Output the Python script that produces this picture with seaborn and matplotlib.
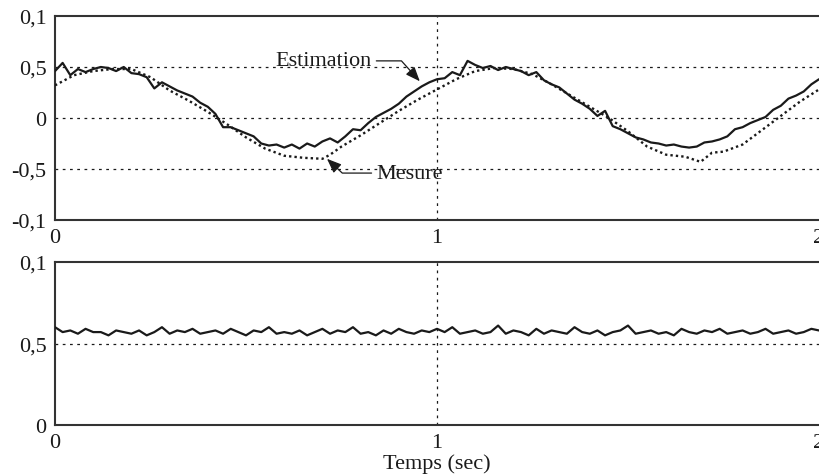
import numpy as np
import pandas as pd
import matplotlib
matplotlib.use("Agg")
import matplotlib.pyplot as plt
import seaborn as sns

# ---------------- data ----------------
# Measured signal (dotted), top panel
mesure_t = [0.00, 0.05, 0.10, 0.15, 0.20, 0.25, 0.30, 0.35, 0.40, 0.45,
            0.50, 0.55, 0.60, 0.65, 0.70, 0.72, 0.75, 0.80, 0.85, 0.90,
            0.95, 1.00, 1.05, 1.10, 1.15, 1.20, 1.25, 1.30, 1.35, 1.40,
            1.45, 1.50, 1.55, 1.60, 1.65, 1.69, 1.70, 1.72, 1.75, 1.80,
            1.85, 1.90, 1.95, 2.00]
mesure_v = [0.32, 0.42, 0.46, 0.48, 0.48, 0.40, 0.27, 0.17, 0.06, -0.06,
            -0.19, -0.30, -0.37, -0.39, -0.40, -0.36, -0.28, -0.17, -0.05, 0.07,
            0.18, 0.28, 0.38, 0.46, 0.49, 0.48, 0.43, 0.33, 0.22, 0.11,
            0.00, -0.13, -0.28, -0.36, -0.38, -0.43, -0.40, -0.34, -0.33, -0.26,
            -0.12, 0.02, 0.16, 0.28]

# Estimated signal (solid), top panel, sampled every 0.02 s
estim_t = [round(0.02 * i, 2) for i in range(101)]
estim_v = [0.46, 0.54, 0.42, 0.48, 0.45, 0.48, 0.50, 0.49, 0.46, 0.50,
           0.44, 0.43, 0.40, 0.29, 0.35, 0.31, 0.27, 0.24, 0.21, 0.15,
           0.11, 0.04, -0.09, -0.09, -0.12, -0.15, -0.18, -0.25, -0.27, -0.26,
           -0.29, -0.26, -0.30, -0.25, -0.28, -0.23, -0.20, -0.24, -0.18, -0.11,
           -0.12, -0.05, 0.01, 0.05, 0.09, 0.14, 0.21, 0.26, 0.31, 0.35,
           0.38, 0.39, 0.45, 0.42, 0.56, 0.52, 0.49, 0.51, 0.47, 0.50,
           0.48, 0.46, 0.42, 0.45, 0.37, 0.33, 0.30, 0.24, 0.18, 0.14,
           0.09, 0.02, 0.07, -0.08, -0.11, -0.15, -0.19, -0.21, -0.24, -0.25,
           -0.27, -0.26, -0.28, -0.29, -0.28, -0.24, -0.23, -0.21, -0.18, -0.11,
           -0.09, -0.05, -0.02, 0.01, 0.08, 0.12, 0.19, 0.22, 0.26, 0.33,
           0.38]

# Bottom panel signal, sampled every 0.02 s
bas_t = [round(0.02 * i, 2) for i in range(101)]
bas_v = [0.60, 0.57, 0.58, 0.56, 0.59, 0.57, 0.57, 0.55, 0.58, 0.57,
         0.56, 0.58, 0.55, 0.57, 0.60, 0.56, 0.58, 0.57, 0.59, 0.56,
         0.57, 0.58, 0.56, 0.59, 0.57, 0.55, 0.58, 0.57, 0.60, 0.56,
         0.57, 0.56, 0.58, 0.55, 0.57, 0.59, 0.56, 0.58, 0.57, 0.60,
         0.56, 0.57, 0.55, 0.58, 0.56, 0.59, 0.57, 0.56, 0.58, 0.57,
         0.59, 0.57, 0.60, 0.56, 0.57, 0.58, 0.56, 0.57, 0.61, 0.56,
         0.58, 0.57, 0.55, 0.59, 0.56, 0.58, 0.57, 0.56, 0.60, 0.57,
         0.56, 0.58, 0.55, 0.57, 0.58, 0.61, 0.56, 0.57, 0.58, 0.56,
         0.57, 0.55, 0.59, 0.57, 0.56, 0.58, 0.57, 0.59, 0.56, 0.57,
         0.58, 0.56, 0.57, 0.59, 0.56, 0.57, 0.58, 0.56, 0.57, 0.59,
         0.58]

x_ticks = [0, 1, 2]
x_ticklabels = ["0", "1", "2"]
top_yticks = [-1, -0.5, 0, 0.5, 1]
top_yticklabels = ["-0,1", "-0,5", "0", "0,5", "0,1"]
bot_yticks = [0, 0.5, 1]
bot_yticklabels = ["0", "0,5", "0,1"]

# ---------------- style ----------------
sns.set_style("white")
plt.rcParams['font.family'] = ['Liberation Serif', 'DejaVu Serif']
FS = 16
ink = "#1a1a1a"

fig = plt.figure(figsize=(8.19, 4.77), dpi=100)
ax1 = fig.add_axes([55 / 819, 1 - 221 / 477, 1 - 55 / 819, 204 / 477])
ax2 = fig.add_axes([55 / 819, 1 - 426 / 477, 1 - 55 / 819, 163 / 477])

df_m = pd.DataFrame({"t": mesure_t, "v": mesure_v})
df_e = pd.DataFrame({"t": estim_t, "v": estim_v})
df_b = pd.DataFrame({"t": bas_t, "v": bas_v})

grid_kw = dict(color=ink, lw=0.9, ls=(0, (2.2, 3.6)), zorder=1)

# top panel
for y in [-0.5, 0, 0.5]:
    ax1.axhline(y, **grid_kw)
ax1.axvline(1, **grid_kw)
sns.lineplot(data=df_m, x="t", y="v", ax=ax1, color=ink, lw=1.7,
             linestyle=(0, (1, 1.3)), zorder=3)
sns.lineplot(data=df_e, x="t", y="v", ax=ax1, color=ink, lw=1.6, zorder=4)
ax1.set_xlim(0, 2)
ax1.set_ylim(-1, 1)

# bottom panel
ax2.axhline(0.5, **grid_kw)
ax2.axvline(1, **grid_kw)
sns.lineplot(data=df_b, x="t", y="v", ax=ax2, color=ink, lw=1.6, zorder=4)
ax2.set_xlim(0, 2)
ax2.set_ylim(0, 1)

for ax, yt, ytl in [(ax1, top_yticks, top_yticklabels),
                    (ax2, bot_yticks, bot_yticklabels)]:
    ax.set_xticks(x_ticks)
    ax.set_xticklabels(x_ticklabels, fontsize=FS)
    ax.set_yticks(yt)
    ax.set_yticklabels(ytl, fontsize=FS)
    ax.tick_params(axis="both", direction="out", length=5, width=1.2,
                   color=ink, pad=1, labelcolor=ink)
    ax.set_xlabel("")
    ax.set_ylabel("")
    for side in ["left", "top", "bottom"]:
        ax.spines[side].set_visible(True)
        ax.spines[side].set_color("#333333")
        ax.spines[side].set_linewidth(1.5)
    ax.spines["right"].set_visible(False)
    ax.grid(False)
    for lab in ax.get_xticklabels():
        lab.set_clip_on(False)

ax2.set_xlabel("Temps (sec)", fontsize=FS, color=ink, labelpad=0.5)

arrow_kw = dict(arrowstyle="-|>,head_length=0.55,head_width=0.22", color=ink,
                lw=0.9, shrinkA=1, shrinkB=0)
ax1.annotate("Estimation", xy=(0.955, 0.36), xytext=(0.703, 0.56),
             fontsize=FS, color=ink, ha="center", va="center",
             arrowprops=dict(connectionstyle="angle,angleA=0,angleB=132,rad=0",
                             **arrow_kw))
ax1.annotate("Mesure", xy=(0.712, -0.40), xytext=(0.928, -0.54),
             fontsize=FS, color=ink, ha="center", va="center",
             arrowprops=dict(connectionstyle="angle,angleA=180,angleB=-43,rad=0",
                             **arrow_kw))

fig.savefig("out.png", dpi=100)
